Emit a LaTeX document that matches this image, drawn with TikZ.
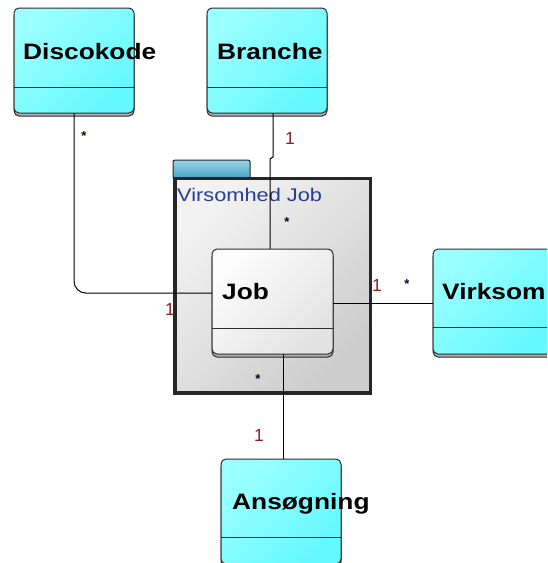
\documentclass[tikz,border=0pt]{standalone}
\usepackage{fontspec}
\setmainfont{Liberation Sans}
\newfontfamily\titlefont[FakeStretch=1.18]{Liberation Sans}
\newfontfamily\pkgfont[FakeStretch=1.19]{Liberation Sans}
\usetikzlibrary{calc,shadows}
\definecolor{cyanA}{RGB}{155,255,255}
\definecolor{cyanB}{RGB}{100,248,255}
\definecolor{pkgA}{RGB}{242,242,242}
\definecolor{pkgB}{RGB}{205,205,205}
\definecolor{jobA}{RGB}{253,253,253}
\definecolor{jobB}{RGB}{226,226,226}
\definecolor{tabA}{RGB}{150,215,232}
\definecolor{tabB}{RGB}{70,160,195}
\definecolor{pkgtext}{RGB}{40,60,150}
\definecolor{multone}{RGB}{140,30,30}
\definecolor{edgegray}{RGB}{45,45,45}
\begin{document}
\begin{tikzpicture}[x=1pt,y=-1pt,
  classbox/.style={draw=edgegray, line width=1pt, rounded corners=5pt,
    minimum width=120pt, minimum height=105pt, anchor=north west,
    inner sep=0pt, outer sep=0pt,
    general shadow={shadow yshift=-3pt, fill=gray!60, draw=edgegray, line width=1pt}},
  cyanbox/.style={classbox, top color=cyanA, bottom color=cyanB, shading angle=45},
  jobbox/.style={classbox, top color=jobA, bottom color=jobB, shading angle=45},
  titletext/.style={font=\titlefont\bfseries\fontsize{22.3}{24}\selectfont, anchor=base west, inner sep=0pt},
  divline/.style={draw=edgegray, line width=1pt},
  conn/.style={draw=black, line width=1pt},
  mone/.style={font=\fontsize{17.5}{19}\selectfont, text=multone, inner sep=0pt},
  mstar/.style={font=\bfseries\fontsize{13}{14}\selectfont, text=black!80!blue, inner sep=0pt}
]
\clip (0,0) rectangle (547,563);
\fill[white] (0,0) rectangle (547,563);

% package
\node[draw=edgegray!80!black, line width=1pt, rounded corners=2pt, top color=tabA, bottom color=tabB,
      minimum width=77pt, minimum height=19pt, anchor=north west, inner sep=0pt, outer sep=0pt] (tab) at (173,160) {};
\node[draw=black!85, line width=3.5pt, top color=pkgA, bottom color=pkgB, shading angle=45,
      minimum width=195.5pt, minimum height=214.3pt, anchor=north west, inner sep=0pt, outer sep=0pt] (pkg) at (175,178.7) {};
\node[font=\pkgfont\fontsize{18.3}{20}\selectfont, text=pkgtext, anchor=base west, inner sep=0pt] (pkglabel) at (177,201) {Virsomhed Job};

% classes
\node[cyanbox] (disco) at (14,8) {};
\node[titletext] (discotxt) at ($(disco.north west)+(9,51)$) {Discokode};
\draw[divline] ($(disco.north west)+(0,79)$) -- ($(disco.north east)+(0,79)$);

\node[cyanbox] (branche) at (207,8) {};
\node[titletext] (branchetxt) at ($(branche.north west)+(10,51)$) {Branche};
\draw[divline] ($(branche.north west)+(0,79)$) -- ($(branche.north east)+(0,79)$);

\node[jobbox, minimum width=121pt] (job) at (212,249) {};
\node[titletext] (jobtxt) at ($(job.north west)+(10,50)$) {Job};
\draw[divline] ($(job.north west)+(0,79)$) -- ($(job.north east)+(0,79)$);

\node[cyanbox] (virk) at (433,249) {};
\node[titletext] (virktxt) at ($(virk.north west)+(9,50)$) {Virksom};
\draw[divline] ($(virk.north west)+(0,78)$) -- ($(virk.north east)+(0,78)$);

\node[cyanbox] (ans) at (221,459) {};
\node[titletext] (anstxt) at ($(ans.north west)+(11,50)$) {Ansøgning};
\draw[divline] ($(ans.north west)+(0,78)$) -- ($(ans.north east)+(0,78)$);

% connectors
\draw[conn, rounded corners=12pt] (disco.south) |- ($(job.north west)!0.42!(job.south west)$);
\draw[conn] ([xshift=6pt]branche.south) -- ++(0,44) -- ++(-3,2) -- ([xshift=-2.5pt]job.north);
\draw[conn] ([yshift=-1.5pt]job.east) -- ([yshift=-1.5pt]job.east -| virk.west);
\draw[conn] ([xshift=10.5pt]job.south) -- ([xshift=10.5pt]job.south |- ans.north);

% multiplicities
\node[mstar] (m1) at (84,136) {*};
\node[mone]  (m2) at (290,138) {1};
\node[mstar] (m3) at (287,222) {*};
\node[mone]  (m4) at (170,309) {1};
\node[mone]  (m5) at (377,285) {1};
\node[mstar] (m6) at (407,284) {*};
\node[mstar] (m7) at (258,379) {*};
\node[mone]  (m8) at (259,435) {1};
\end{tikzpicture}
\end{document}
